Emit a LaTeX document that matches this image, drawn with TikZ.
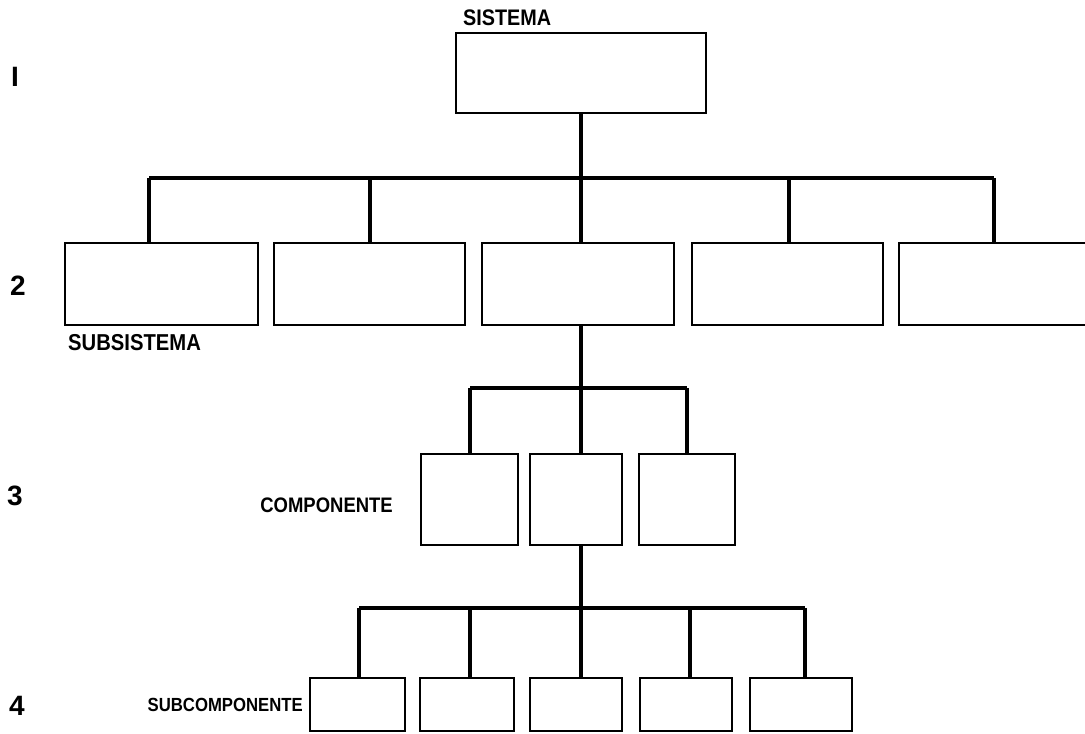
\documentclass[tikz,border=0pt]{standalone}
\usepackage{fontspec}
\setmainfont{Liberation Sans}
\newfontfamily\condsans[FakeStretch=0.88]{Liberation Sans}
\begin{document}
\begin{tikzpicture}[x=1pt,y=-1pt,
  box/.style={draw, line width=2.8pt, rectangle, inner sep=0pt, outer sep=0pt},
  link/.style={line width=3.2pt},
  lab/.style={inner sep=0pt},
  num/.style={font=\bfseries\fontsize{28}{28}\selectfont, inner sep=0pt}]
\useasboundingbox[fill=white] (0,0) rectangle (1085,734);

% level 1
\node[box, minimum width=250pt, minimum height=80pt] (s) at (581,73) {};
% level 2
\node[box, minimum width=193pt, minimum height=82pt] (a1) at (161.5,284) {};
\node[box, minimum width=191pt, minimum height=82pt] (a2) at (369.5,284) {};
\node[box, minimum width=192pt, minimum height=82pt] (a3) at (578,284) {};
\node[box, minimum width=191pt, minimum height=82pt] (a4) at (787.5,284) {};
\node[box, minimum width=211pt, minimum height=82pt] (a5) at (1004.5,284) {};
% level 3
\node[box, minimum width=97pt, minimum height=91pt] (b1) at (469.5,499.5) {};
\node[box, minimum width=92pt, minimum height=91pt] (b2) at (576,499.5) {};
\node[box, minimum width=96pt, minimum height=91pt] (b3) at (687,499.5) {};
% level 4
\node[box, minimum width=95pt, minimum height=53pt] (c1) at (357.5,704.5) {};
\node[box, minimum width=94pt, minimum height=53pt] (c2) at (467,704.5) {};
\node[box, minimum width=92pt, minimum height=53pt] (c3) at (576,704.5) {};
\node[box, minimum width=92pt, minimum height=53pt] (c4) at (686,704.5) {};
\node[box, minimum width=102pt, minimum height=53pt] (c5) at (801,704.5) {};

% branch points on the bars
\coordinate (p1) at (149,178);
\coordinate (p2) at (370,178);
\coordinate (p3) at (581,178);
\coordinate (p4) at (789,178);
\coordinate (p5) at (994,178);
\coordinate (q1) at (470,388);
\coordinate (q2) at (581,388);
\coordinate (q3) at (687,388);
\coordinate (r1) at (359,608);
\coordinate (r2) at (470,608);
\coordinate (r3) at (581,608);
\coordinate (r4) at (690,608);
\coordinate (r5) at (805,608);

% level 1 -> level 2
\draw[link] (s.south) -- (p3);
\draw[link] (p1) -- (p5);
\foreach \p/\n in {p1/a1,p2/a2,p3/a3,p4/a4,p5/a5}
  \draw[link] (\p) -- (\p |- \n.north);
% level 2 -> level 3
\draw[link] (a3.south -| q2) -- (q2);
\draw[link] (q1) -- (q3);
\foreach \p/\n in {q1/b1,q2/b2,q3/b3}
  \draw[link] (\p) -- (\p |- \n.north);
% level 3 -> level 4
\draw[link] (b2.south -| r3) -- (r3);
\draw[link] (r1) -- (r5);
\foreach \p/\n in {r1/c1,r2/c2,r3/c3,r4/c4,r5/c5}
  \draw[link] (\p) -- (\p |- \n.north);

% labels
\node[lab, anchor=west, font=\condsans\bfseries\fontsize{22.5}{22.5}\selectfont] (ls) at (463,18) {SISTEMA};
\node[lab, anchor=west, font=\condsans\bfseries\fontsize{23}{23}\selectfont] (la) at (68,343) {SUBSISTEMA};
\node[lab, anchor=east, font=\condsans\bfseries\fontsize{21}{21}\selectfont] (lb) at (393,505) {COMPONENTE};
\node[lab, anchor=east, font=\condsans\bfseries\fontsize{19}{19}\selectfont] (lc) at (303,705) {SUBCOMPONENTE};

% level numbers
\node[num] (n1) at (15,77) {I};
\node[num] (n2) at (18,286) {2};
\node[num] (n3) at (15,496) {3};
\node[num] (n4) at (17,706) {4};
\end{tikzpicture}
\end{document}
